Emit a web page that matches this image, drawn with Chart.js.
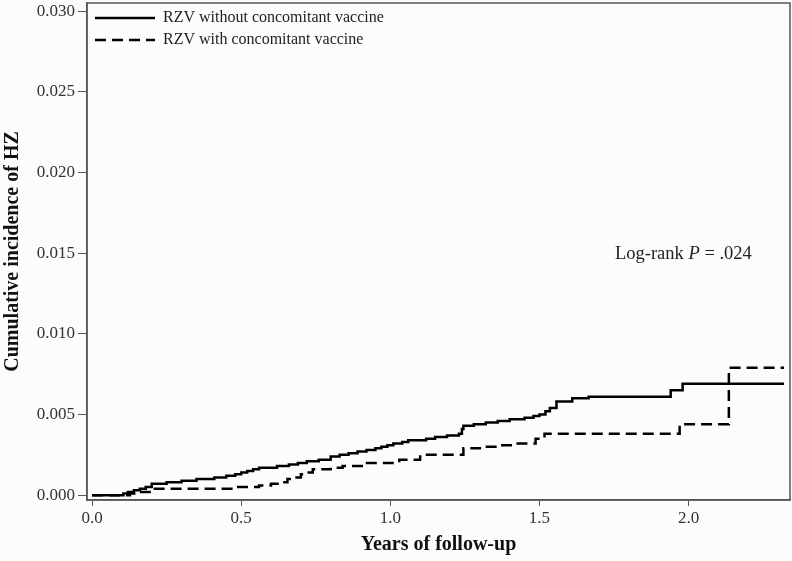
<!DOCTYPE html>
<html lang="en">
<head>
    <meta charset="UTF-8">
    <title>Cumulative incidence of HZ</title>
    <script src="https://cdn.jsdelivr.net/npm/chart.js"></script>
    <style>
        html, body { margin: 0; padding: 0; background: #fcfcfc; }
        #wrap { width: 792px; height: 561px; position: relative; }
    </style>
</head>
<body>
    <div id="wrap"><canvas id="kmChart"></canvas></div>
    <script>
        // Step points (time in years, cumulative incidence)
        const withoutTimes = [0.0, 0.105, 0.12, 0.14, 0.16, 0.18, 0.2, 0.25, 0.3, 0.35, 0.41, 0.45, 0.48, 0.5,
            0.52, 0.54, 0.56, 0.62, 0.66, 0.69, 0.72, 0.76, 0.8, 0.83, 0.86, 0.89, 0.92, 0.95, 0.97, 0.99,
            1.01, 1.04, 1.06, 1.12, 1.15, 1.19, 1.23, 1.24, 1.245, 1.28, 1.32, 1.36, 1.40, 1.45, 1.48, 1.50,
            1.52, 1.535, 1.557, 1.61, 1.665, 1.94, 1.98, 2.32];
        const withoutValues = [0, 0.0001, 0.0002, 0.0003, 0.0004, 0.0005, 0.0007, 0.0008, 0.0009, 0.0010, 0.0011, 0.0012, 0.0013, 0.0014,
            0.0015, 0.0016, 0.0017, 0.0018, 0.0019, 0.0020, 0.0021, 0.0022, 0.0024, 0.0025, 0.0026, 0.0027, 0.0028, 0.0029, 0.0030, 0.0031,
            0.0032, 0.0033, 0.0034, 0.0035, 0.0036, 0.0037, 0.0038, 0.0041, 0.0043, 0.0044, 0.0045, 0.0046, 0.0047, 0.0048, 0.0049, 0.0050,
            0.0052, 0.0054, 0.0058, 0.0060, 0.0061, 0.0065, 0.0069, 0.0069];

        const withTimes = [0.0, 0.127, 0.16, 0.2, 0.49, 0.56, 0.6, 0.64, 0.655, 0.68, 0.70, 0.72, 0.74, 0.8, 0.84, 0.91,
            1.03, 1.10, 1.245, 1.3, 1.36, 1.42, 1.487, 1.517, 1.97, 2.135, 2.32];
        const withValues = [0, 0.0001, 0.0002, 0.0004, 0.0005, 0.0006, 0.0007, 0.0008, 0.0010, 0.0011, 0.0013, 0.0014, 0.0016, 0.0017, 0.0018, 0.0020,
            0.0022, 0.0025, 0.0029, 0.0030, 0.0031, 0.0032, 0.0035, 0.0038, 0.0044, 0.0079, 0.0079];

        const seriesLabels = ['RZV without concomitant vaccine', 'RZV with concomitant vaccine'];
        const xTicks = [0.0, 0.5, 1.0, 1.5, 2.0];
        const yTicks = [0.000, 0.005, 0.010, 0.015, 0.020, 0.025, 0.030];

        const serif = '"Liberation Serif", "DejaVu Serif", serif';
        const axisColor = '#555';

        function toPoints(xs, ys) {
            return xs.map((x, i) => ({ x: x, y: ys[i] }));
        }

        // cadre, légende et texte du log-rank
        const extras = {
            id: 'extras',
            afterDraw(chart) {
                const ctx = chart.ctx;
                const a = chart.chartArea;
                ctx.save();
                ctx.strokeStyle = axisColor;
                ctx.lineWidth = 1.5;
                ctx.strokeRect(a.left, a.top, a.right - a.left, a.bottom - a.top);

                ctx.font = '16px ' + serif;
                ctx.textBaseline = 'middle';
                ctx.fillStyle = '#222';
                chart.data.datasets.forEach((ds, i) => {
                    const y = a.top + 15 + i * 22;
                    ctx.beginPath();
                    ctx.setLineDash(ds.borderDash || []);
                    ctx.strokeStyle = ds.borderColor;
                    ctx.lineWidth = ds.borderWidth;
                    ctx.moveTo(a.left + 8, y);
                    ctx.lineTo(a.left + 68, y);
                    ctx.stroke();
                    ctx.setLineDash([]);
                    ctx.fillText(ds.label, a.left + 76, y);
                });

                const tx = 615, ty = 254;
                ctx.font = '18.5px ' + serif;
                ctx.fillText('Log-rank ', tx, ty);
                let w = ctx.measureText('Log-rank ').width;
                ctx.font = 'italic 18.5px ' + serif;
                ctx.fillText('P', tx + w, ty);
                w += ctx.measureText('P').width;
                ctx.font = '18.5px ' + serif;
                ctx.fillText(' = .024', tx + w, ty);
                ctx.restore();
            }
        };

        const ctxKm = document.getElementById('kmChart').getContext('2d');
        const kmChart = new Chart(ctxKm, {
            type: 'line',
            data: {
                datasets: [{
                    label: seriesLabels[0],
                    data: toPoints(withoutTimes, withoutValues),
                    borderColor: '#000',
                    borderWidth: 2.5,
                    stepped: 'before',
                    pointRadius: 0,
                    fill: false
                }, {
                    label: seriesLabels[1],
                    data: toPoints(withTimes, withValues),
                    borderColor: '#000',
                    borderWidth: 2.5,
                    borderDash: [11, 6],
                    stepped: 'before',
                    pointRadius: 0,
                    fill: false
                }]
            },
            options: {
                responsive: true,
                maintainAspectRatio: false,
                animation: false,
                layout: { padding: { top: 3, right: 2, left: 0, bottom: 0 } },
                plugins: {
                    legend: { display: false },
                    tooltip: { enabled: false }
                },
                scales: {
                    x: {
                        type: 'linear',
                        min: -0.017,
                        max: 2.34,
                        afterBuildTicks: scale => { scale.ticks = xTicks.map(v => ({ value: v })); },
                        afterFit: scale => { scale.height = 61; scale.paddingLeft = 0; scale.paddingRight = 0; },
                        ticks: {
                            callback: v => v.toFixed(1),
                            color: '#333',
                            font: { family: serif, size: 17 },
                            padding: 2,
                            maxRotation: 0
                        },
                        grid: { display: true, drawOnChartArea: false, drawTicks: true, tickLength: 6, tickColor: axisColor },
                        border: { display: true, color: axisColor, width: 1.5 },
                        title: {
                            display: true,
                            text: 'Years of follow-up',
                            color: '#111',
                            padding: { top: 4, bottom: 4 },
                            font: { family: serif, size: 20, weight: 'bold' }
                        }
                    },
                    y: {
                        min: -0.0003,
                        max: 0.0305,
                        afterBuildTicks: scale => { scale.ticks = yTicks.map(v => ({ value: v })); },
                        afterFit: scale => { scale.width = 87; scale.paddingTop = 0; scale.paddingBottom = 0; },
                        ticks: {
                            callback: v => v.toFixed(3),
                            color: '#333',
                            font: { family: serif, size: 17 },
                            padding: 3
                        },
                        grid: { display: true, drawOnChartArea: false, drawTicks: true, tickLength: 9, tickColor: axisColor },
                        border: { display: true, color: axisColor, width: 1.5 },
                        title: {
                            display: true,
                            text: 'Cumulative incidence of HZ',
                            color: '#111',
                            padding: { top: 1, bottom: 0 },
                            font: { family: serif, size: 20, weight: 'bold' }
                        }
                    }
                }
            },
            plugins: [extras]
        });
    </script>
</body>
</html>
